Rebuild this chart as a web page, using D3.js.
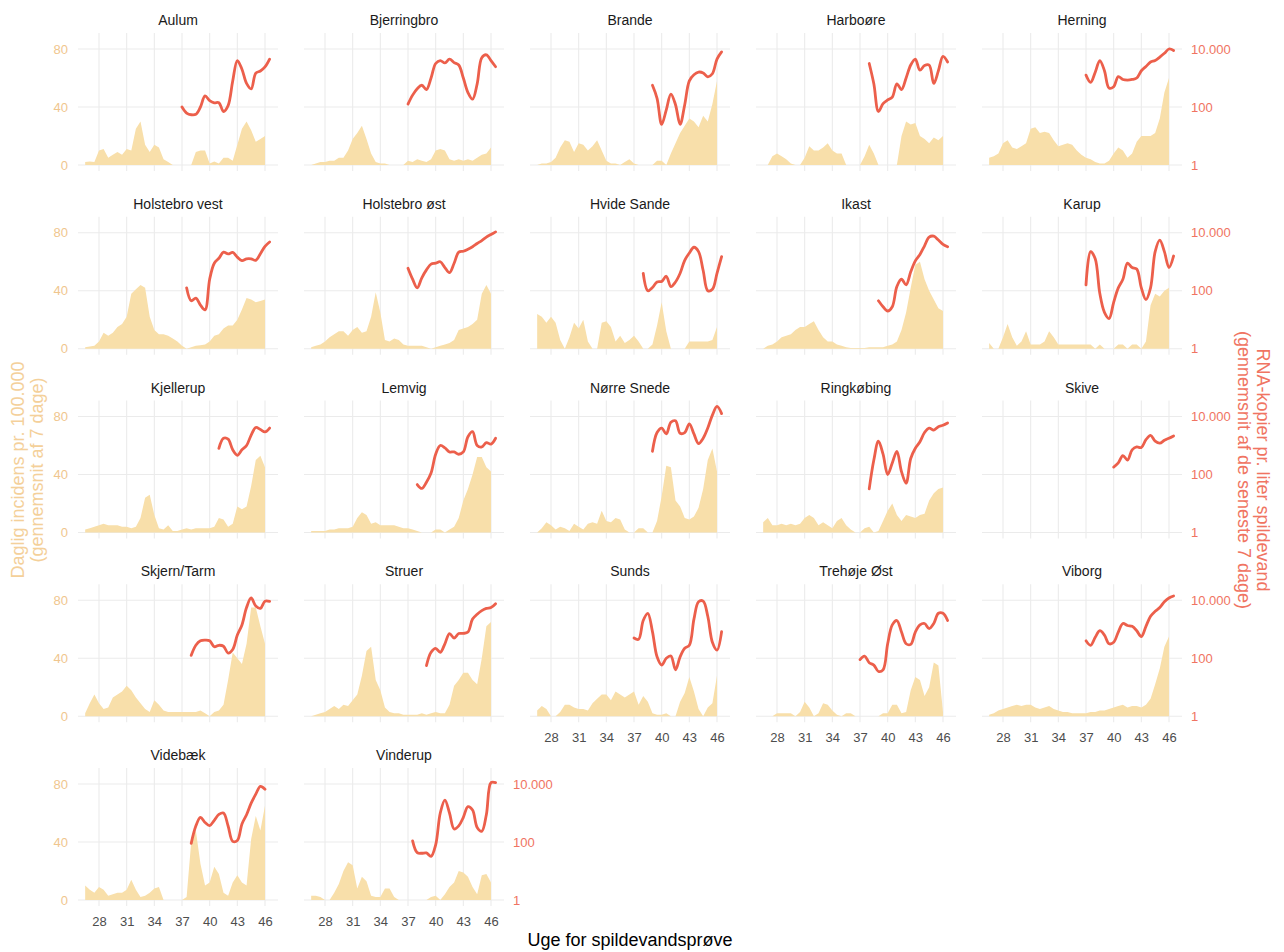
<!DOCTYPE html>
<html>
<head>
<meta charset="utf-8">
<script src="https://cdn.jsdelivr.net/npm/d3@7"></script>
<style>
  body { margin: 0; background: #fff; }
  svg { font-family: "Liberation Sans", Arial, sans-serif; }
</style>
</head>
<body>
<svg id="chart" width="1284" height="952"></svg>
<script>
// week grids (x values)
const weeks = [26.5,27,27.5,28,28.5,29,29.5,30,30.5,31,31.5,32,32.5,33,33.5,34,34.5,35,35.5,36,
  36.5,37,37.5,38,38.5,39,39.5,40,40.5,41,41.5,42,42.5,43,43.5,44,44.5,45,45.5,46];
const rnaWeeks = [37,37.5,38,38.5,39,39.5,40,40.5,41,41.5,42,42.5,43,43.5,44,44.5,45,45.5,46,46.5];
const xTicks = [28,31,34,37,40,43,46];
const incTicks = [0,40,80];
const rnaTicks = [1,100,10000];

// daily incidence per 100.000 (7-day mean), read at half-week steps
const incAulum = [2,2.5,2,10,11,5,7,9,7,11,10,25,30,14,9,14,12,4,2,0,0,0,0,0,9,10,10,1,2.5,1,5,5,3,14,25,30,24,16,18,20];
const incBjerringbro = [0,1,2,2,3,3,5,5,10,18,22,27,18,8,2,1,1,0,0,0,0,3,2,4,3,2,4,10,11,10,4,3,4,3,4,3,5,7,8,12];
const incBrande = [0,1,1,2,5,12,17,16,9,15,14,10,13,17,10,3,1,1,0,2,4,1,0,0,0,0,3,3,0,8,15,22,27,32,30,26,34,30,42,58];
const incHarboore = [0,0,6,8,6,4,1,0,0,5,13,10,10,12,15,10,8,8,0,0,0,0,6,14,8,0,0,0,0,0,20,30,28,29,20,18,15,19,17,20];
const incHerning = [5,6,8,15,17,12,11,13,15,25,26,22,23,22,17,13,14,15,14,10,7,5,4,2,1,1,3,8,12,10,5,8,16,20,20,20,22,32,50,60];
const incHolstebroVest = [1,1.5,2,5,11,9,11,15,17,22,38,41,44,42,22,13,10,10,9,7,5,2,0,1,2,2.5,3,5,9,10,14,16,16,20,27,35,34,32,33,34];
const incHolstebroOst = [1,2,3,5,8,10,12,12,9,13,15,11,12,22,39,25,6,5,7,6,3,2,2,2,2,1,0,1,2,3,4,6,13,14,15,17,20,38,44,38];
const incHvideSande = [24,22,18,22,18,6,0,8,18,14,20,5,0,0,18,19,15,5,9,4,6,9,5,0,0,3,16,32,12,0,0,0,0,5,5,5,5,5,6,15];
const incIkast = [0,2,3,5,8,9,10,13,15,15,17,19,13,8,5,5,3,2,1,0.5,0.5,0.5,0.5,1,1,1,1,2,3,5,13,25,42,58,60,48,40,34,28,26];
const incKarup = [4,0,0,8,17,8,2,5,12,3,3,3,5,12,8,3,3,3,3,3,3,3,3,0,3,0,0,0,3,3,0,3,3,0,5,30,38,36,40,42];
const incKjellerup = [2,3,4,5,6,5,5,5,4,4,3,4,10,24,26,12,3,2,5,1,1,2,3,2,3,3,3,3,4,10,9,4,6,18,16,18,32,50,53,45];
const incLemvig = [1,1,1,1,2,2,3,3,3,4,10,14,12,6,7,5,5,5,5,4,3,3,2,1,0,0,0,2,2,0,2,4,10,22,30,40,52,52,45,42];
const incNorreSnede = [0,3,7,5,2,4,3,1,6,4,2,6,7,6,15,8,7,10,9,2,0,0,3,3,0,0,8,25,46,45,22,18,10,9,11,17,30,50,58,42];
const incRingkobing = [7,10,5,5,6,5,6,5,6,10,12,10,5,7,5,3,8,10,5,2,0,0,3,4,0,1,8,15,20,12,8,12,11,10,12,13,22,27,30,31];
const incSkive = [];
const incSkjernTarm = [2,9,15,9,5,6,13,15,17,21,18,13,9,5,3,11,8,4,3,3,3,3,3,3,3,4,2,0,3,4,8,25,44,40,36,50,75,75,62,50];
const incStruer = [0,1,2,3,5,7,5,8,7,11,15,28,45,48,25,18,6,3,2,2,1,1,1,1,2,1,2,3,2,2,8,21,25,30,30,25,22,40,62,65];
const incSunds = [4,7,5,0,0,3,8,8,6,5,5,4,9,12,15,15,11,17,15,13,15,17,8,14,10,2,1,1,2,0,0,10,16,27,17,5,0,6,9,28];
const incTrehojeOst = [0,0,0,2,2,2,2,0,3,10,6,0,2,9,8,4,1,0,2,2,0,0,0,0,0,0,2,2,8,8,2,3,18,27,25,14,20,37,35,3];
const incViborg = [1,2,4,5,6,7,8,7,8,8,6,5,6,7,5,4,3,3,2,2,2,2,3,3,4,4,5,6,7,8,6,7,7,6,8,12,22,33,48,55];
const incVidebaek = [10,7,5,9,7,3,4,5,5,7,14,7,2,3,5,8,9,0,0,0,0,0,2,40,48,25,10,12,23,18,5,3,12,17,12,10,42,58,48,65];
const incVinderup = [3,3,2,0,0,5,11,20,26,24,8,16,13,3,2,2,8,8,2,0,0,0,0,0,0,0,2,3,0,4,9,12,20,19,16,9,4,17,18,12];

// RNA copies per litre wastewater (7-day mean), weeks 37..46.5
const rnaAulum = [100,62,54,56,100,240,165,140,141,70,112,790,4000,2000,650,420,1480,1740,2400,4470];
const rnaBjerringbro = [126,257,427,562,400,1000,3160,4000,3300,4470,3400,2800,1000,316,186,630,5000,6300,4000,2450];
const rnaBrande = [null,null,null,null,560,200,25,80,280,120,25,120,800,1300,1600,1500,1100,1400,4500,7900];
const rnaHarboore = [null,null,3160,630,70,130,175,220,630,400,1000,2800,4470,1860,2700,2800,650,1780,5600,3550];
const rnaHerning = [1260,710,1580,4000,1780,450,500,1120,890,850,890,1000,1780,2500,3550,4000,5250,7100,10000,8900];
const rnaHolstebroVest = [null,126,45,56,32,22,250,890,1320,2140,1860,2090,1450,1100,1260,1260,1120,1900,3400,4800];
const rnaHolstebroOst = [600,250,126,280,525,830,890,1000,630,420,890,2140,2300,2700,3300,4270,5370,7080,8700,10700];
const rnaHvideSande = [null,null,400,100,130,200,210,316,140,200,400,1120,2000,3160,2240,500,100,112,400,1500];
const rnaIkast = [null,null,null,null,45,28,20,28,140,250,160,450,1070,1780,3550,7080,7600,5600,4000,3300];
const rnaKarup = [160,2240,1260,80,18,11,40,126,250,890,630,560,126,50,126,2240,5600,2240,630,1580];
const rnaKjellerup = [null,null,null,null,null,null,null,null,800,1780,1660,710,460,710,1000,2290,4170,3550,2950,4000];
const rnaLemvig = [null,null,45,33,54,112,500,1000,830,600,600,500,600,2000,3000,1000,890,1260,1120,1780];
const rnaNorreSnede = [null,null,null,null,630,2800,4000,2500,6300,7080,2630,2800,5600,2500,1170,1780,4000,11200,22400,12600];
const rnaRingkobing = [null,null,32,316,1410,500,100,250,630,126,50,355,800,1350,2800,4000,3400,4470,5000,6000];
const rnaSkive = [null,null,null,null,null,null,180,250,450,316,710,890,850,1580,2240,1410,1200,1510,1780,2140];
const rnaSkjernTarm = [null,null,126,280,400,420,400,250,280,260,150,200,630,1410,5600,12000,6300,5250,9300,9100];
const rnaStruer = [null,null,null,null,56,160,220,160,316,710,500,710,720,800,2240,3300,4370,5250,5600,7600];
const rnaSunds = [500,450,2000,3550,830,112,58,100,120,40,112,220,280,2240,8900,9300,2800,355,190,830];
const rnaTrehojeOst = [90,118,70,58,35,40,316,1410,2000,800,316,300,800,1410,1580,1050,1580,3550,3550,2000];
const rnaViborg = [400,280,525,890,630,316,355,800,1580,1350,1260,890,560,1260,2800,4170,5600,8900,12000,14000];
const rnaVidebaek = [null,null,90,355,710,470,370,560,890,1000,355,105,112,420,870,2190,4470,8300,6600,null];
const rnaVinderup = [null,110,43,41,42,32,80,1000,2800,1000,280,360,710,1660,1260,316,234,890,11200,11200];

const panels = [
  ["Aulum", incAulum, rnaAulum],
  ["Bjerringbro", incBjerringbro, rnaBjerringbro],
  ["Brande", incBrande, rnaBrande],
  ["Harboøre", incHarboore, rnaHarboore],
  ["Herning", incHerning, rnaHerning],
  ["Holstebro vest", incHolstebroVest, rnaHolstebroVest],
  ["Holstebro øst", incHolstebroOst, rnaHolstebroOst],
  ["Hvide Sande", incHvideSande, rnaHvideSande],
  ["Ikast", incIkast, rnaIkast],
  ["Karup", incKarup, rnaKarup],
  ["Kjellerup", incKjellerup, rnaKjellerup],
  ["Lemvig", incLemvig, rnaLemvig],
  ["Nørre Snede", incNorreSnede, rnaNorreSnede],
  ["Ringkøbing", incRingkobing, rnaRingkobing],
  ["Skive", incSkive, rnaSkive],
  ["Skjern/Tarm", incSkjernTarm, rnaSkjernTarm],
  ["Struer", incStruer, rnaStruer],
  ["Sunds", incSunds, rnaSunds],
  ["Trehøje Øst", incTrehojeOst, rnaTrehojeOst],
  ["Viborg", incViborg, rnaViborg],
  ["Videbæk", incVidebaek, rnaVidebaek],
  ["Vinderup", incVinderup, rnaVinderup]
].map(([name, inc, rna]) => ({
  name,
  inc: inc.map((v, i) => ({w: weeks[i], v})),
  rna: rna.map((v, i) => ({w: rnaWeeks[i], v}))
}));

const NCOL = 5;
const panelW = 200, colStep = 226, left0 = 78;
const zero0 = 165, rowStep = 183.75;
const panelTop = -132, panelBottom = 6;

const AREA = "#f8dfaa", LINE = "#ec5f4b";
const TAN = "#f0c68e", SALMON = "#f07462", GRID = "#ebebeb";

const svg = d3.select("#chart");

const x = d3.scaleLinear().domain([28, 46]).range([21, 187]);
const yInc = d3.scaleLinear().domain([0, 80]).range([0, -116]);
const yRna = d3.scaleLog().domain([1, 10000]).range([0, -116]);

const area = d3.area()
  .defined(d => d.v != null)
  .x(d => x(d.w))
  .y0(0)
  .y1(d => yInc(d.v));

const line = d3.line()
  .defined(d => d.v != null)
  .x(d => x(d.w))
  .y(d => yRna(d.v))
  .curve(d3.curveCatmullRom.alpha(0.5));

const dotFormat = d => d3.format(",")(d).replace(/,/g, ".");

panels.forEach((p, i) => {
  const col = i % NCOL, row = Math.floor(i / NCOL);
  const g = svg.append("g")
    .attr("transform", `translate(${left0 + col * colStep}, ${zero0 + row * rowStep})`);

  // grid
  g.selectAll(".hgrid").data(incTicks).join("line")
    .attr("x1", 0).attr("x2", panelW)
    .attr("y1", d => yInc(d)).attr("y2", d => yInc(d))
    .attr("stroke", GRID).attr("stroke-width", 1.1);
  g.selectAll(".vgrid").data(xTicks).join("line")
    .attr("x1", d => x(d)).attr("x2", d => x(d))
    .attr("y1", panelTop).attr("y2", panelBottom)
    .attr("stroke", GRID).attr("stroke-width", 1.1);

  g.append("path").datum(p.inc)
    .attr("d", area)
    .attr("fill", AREA);

  g.append("path").datum(p.rna)
    .attr("d", line)
    .attr("fill", "none")
    .attr("stroke", LINE)
    .attr("stroke-width", 2.8)
    .attr("stroke-linejoin", "round")
    .attr("stroke-linecap", "round");

  g.append("text")
    .attr("x", panelW / 2).attr("y", -140)
    .attr("text-anchor", "middle")
    .attr("font-size", 14)
    .attr("fill", "#1a1a1a")
    .text(p.name);

  if (col === 0) {
    const ax = g.append("g")
      .call(d3.axisLeft(yInc).tickValues(incTicks).tickSize(0).tickPadding(10));
    ax.select(".domain").remove();
    ax.selectAll("text").attr("fill", TAN).attr("font-size", 13).attr("font-family", null);
  }
  const lastInRow = col === NCOL - 1 || i === panels.length - 1;
  if (lastInRow) {
    const ax = g.append("g").attr("transform", `translate(${panelW},0)`)
      .call(d3.axisRight(yRna).tickValues(rnaTicks).tickFormat(dotFormat).tickSize(0).tickPadding(9));
    ax.select(".domain").remove();
    ax.selectAll("text").attr("fill", SALMON).attr("font-size", 13).attr("font-family", null);
  }
  if (i + NCOL >= panels.length) {
    const ax = g.append("g").attr("transform", `translate(0,${panelBottom})`)
      .call(d3.axisBottom(x).tickValues(xTicks).tickSize(0).tickPadding(11));
    ax.select(".domain").remove();
    ax.selectAll("text").attr("fill", "#4d4d4d").attr("font-size", 13).attr("font-family", null);
  }
});

// axis titles
const midY = 470;
svg.append("text")
  .attr("transform", `translate(24, ${midY}) rotate(-90)`)
  .attr("text-anchor", "middle").attr("font-size", 18).attr("fill", "#f4d09a")
  .text("Daglig incidens pr. 100.000");
svg.append("text")
  .attr("transform", `translate(43, ${midY}) rotate(-90)`)
  .attr("text-anchor", "middle").attr("font-size", 18).attr("fill", "#f4d09a")
  .text("(gennemsnit af 7 dage)");
svg.append("text")
  .attr("transform", `translate(1257, ${midY}) rotate(90)`)
  .attr("text-anchor", "middle").attr("font-size", 18).attr("fill", SALMON)
  .text("RNA-kopier pr. liter spildevand");
svg.append("text")
  .attr("transform", `translate(1238, ${midY}) rotate(90)`)
  .attr("text-anchor", "middle").attr("font-size", 18).attr("fill", SALMON)
  .text("(gennemsnit af de seneste 7 dage)");
svg.append("text")
  .attr("x", 630).attr("y", 946)
  .attr("text-anchor", "middle").attr("font-size", 18).attr("fill", "#000")
  .text("Uge for spildevandsprøve");
</script>
</body>
</html>
